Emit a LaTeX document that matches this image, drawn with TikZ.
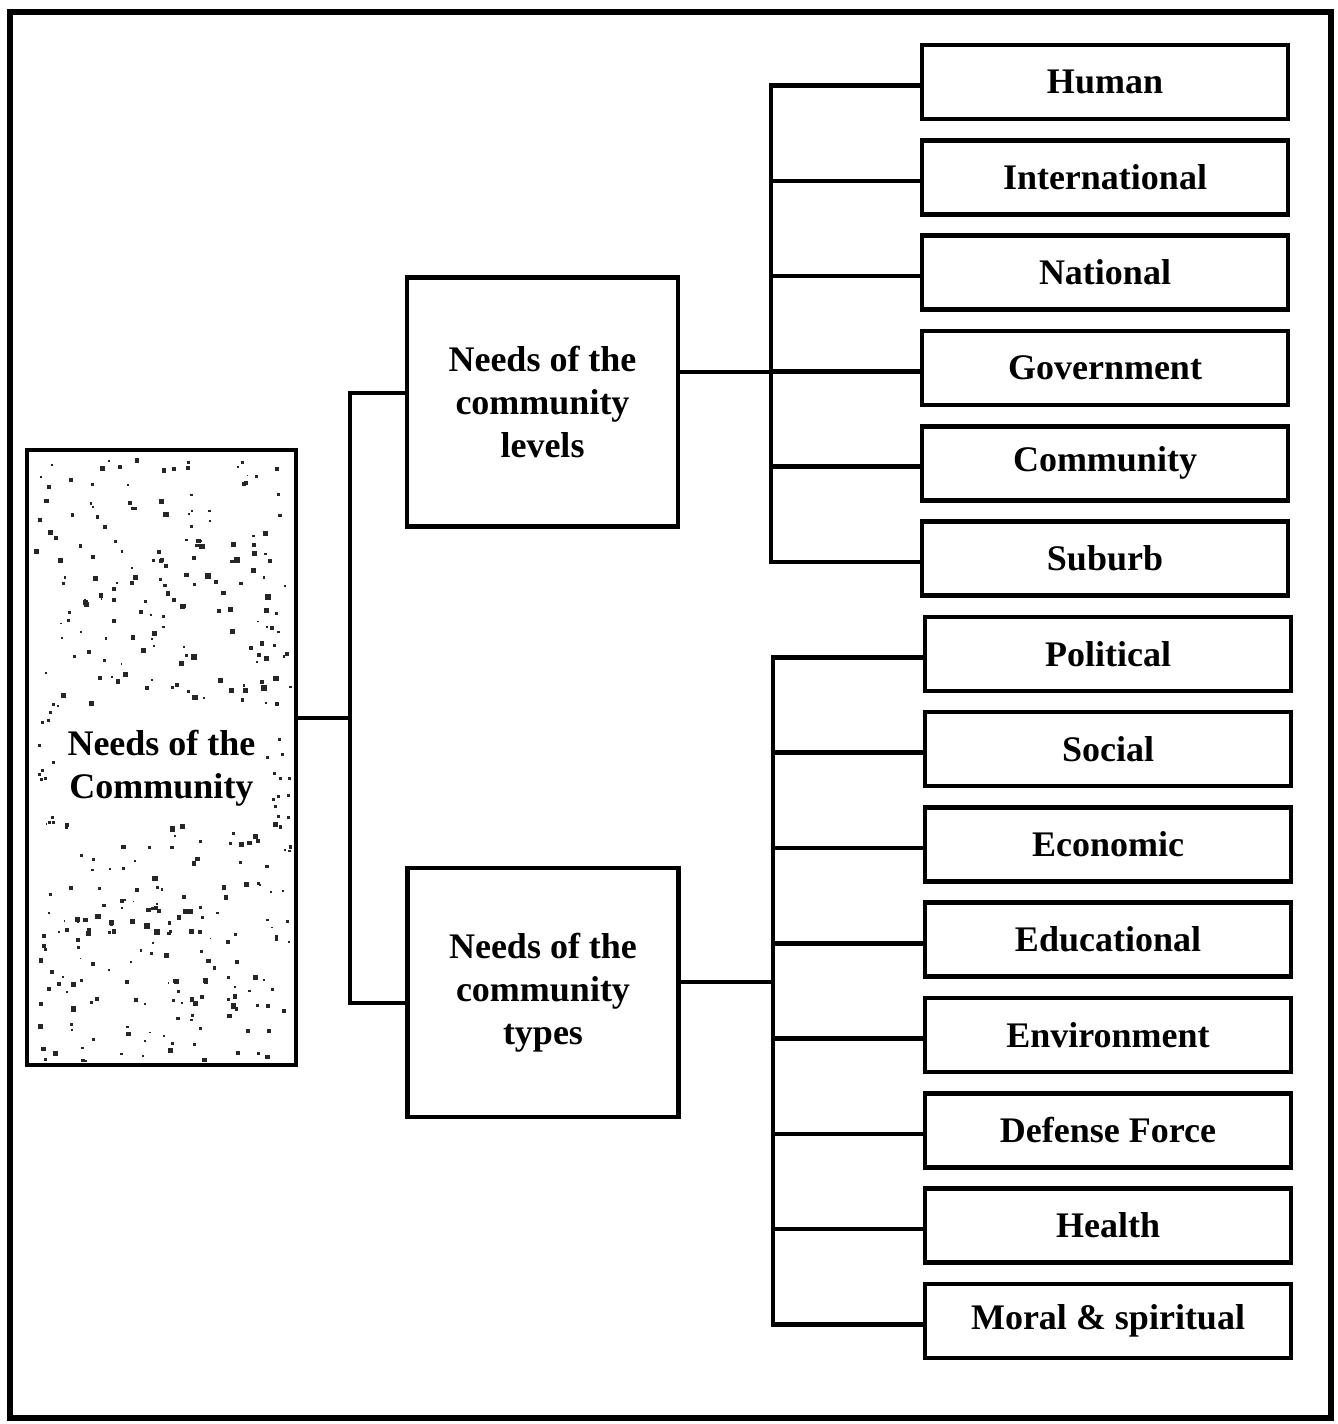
\documentclass[tikz,border=0pt]{standalone}
\usepackage{fontspec}
\setmainfont{Liberation Serif}
\begin{document}
\begin{tikzpicture}[x=1pt,y=-1pt,
  txt/.style={font=\fontsize{36}{43}\selectfont\bfseries, align=center, inner sep=0pt},
  box/.style={draw, line width=4.6pt, txt},
  leaf/.style={box, minimum width=366pt, minimum height=74pt},
  mid/.style={box, minimum width=271pt, minimum height=249pt},
  link/.style={line width=4.6pt},
  bus/.style={line width=4.6pt, line cap=rect},
  speck/.style={fill=black!85}]
\useasboundingbox (0,0) rectangle (1338,1424);
% outer frame
\draw[line width=5.5pt] (10,12) rectangle (1331,1418);

% speckled texture inside the main box
\begin{scope}
  \clip (31,454) rectangle (292,1061);
  \pgfmathsetseed{1234}
  \foreach \i in {1,...,170}{
    \pgfmathsetmacro\px{33+257*rnd}
    \pgfmathsetmacro\py{456+250*rnd}
    \pgfmathsetmacro\s{1.5+4*rnd}
    \fill[speck] (\px,\py) rectangle ++(\s,\s);
  }
  \foreach \i in {1,...,180}{
    \pgfmathsetmacro\px{33+257*rnd}
    \pgfmathsetmacro\py{822+238*rnd}
    \pgfmathsetmacro\s{1.5+4*rnd}
    \fill[speck] (\px,\py) rectangle ++(\s,\s);
  }
  \foreach \i in {1,...,12}{
    \pgfmathsetmacro\px{33+22*rnd}
    \pgfmathsetmacro\py{706+116*rnd}
    \fill[speck] (\px,\py) rectangle ++(3,3);
    \pgfmathsetmacro\qx{266+24*rnd}
    \pgfmathsetmacro\qy{706+116*rnd}
    \fill[speck] (\qx,\qy) rectangle ++(3,3);
  }
\end{scope}

% main box and its title
\node[box, minimum width=269pt, minimum height=615pt] (root) at (161.5,757.5) {};
\node[txt] (roottitle) at ([yshift=-11pt]root.center) {Needs of the\\Community};

% second level
\node[mid] (lev) at (542.5,402) {Needs of the\\community\\levels};
\node[mid] (typ) at (543,992.5) {Needs of the\\community\\types};

% leaves: levels
\node[leaf] (human) at (1105,82)   {Human};
\node[leaf] (intl)  at (1105,177.3) {International};
\node[leaf] (natl)  at (1105,272.6) {National};
\node[leaf] (gov)   at (1105,367.9) {Government};
\node[leaf] (comm)  at (1105,463.2) {Community};
\node[leaf] (sub)   at (1105,558.5) {Suburb};
% leaves: types
\node[leaf] (pol)   at (1108,653.8)  {Political};
\node[leaf] (soc)   at (1108,749.1)  {Social};
\node[leaf] (eco)   at (1108,844.4)  {Economic};
\node[leaf] (edu)   at (1108,939.7)  {Educational};
\node[leaf] (env)   at (1108,1035)   {Environment};
\node[leaf] (def)   at (1108,1130.3) {Defense Force};
\node[leaf] (hea)   at (1108,1225.6) {Health};
\node[leaf] (mor)   at (1108,1320.9) {Moral \& spiritual};

% bus positions
\coordinate (b0) at (350,718);
\coordinate (b1) at (771,372);
\coordinate (b2) at (773,982);

% root to second level
\draw[link] (root.east |- b0) -- (b0);
\draw[link] ([yshift=9pt]lev.west) -| (b0) |- ([yshift=-10.5pt]typ.west);

% levels tree
\draw[link] (lev.east |- b1) -- (b1);
\draw[bus] ([yshift=-3.5pt]human.west -| b1) -- ([yshift=-3.5pt]sub.west -| b1);
\foreach \n in {human,intl,natl,gov,comm,sub}
  \draw[link] ([yshift=-3.5pt]\n.west) -- ([yshift=-3.5pt]\n.west -| b1);

% types tree
\draw[link] (typ.east |- b2) -- (b2);
\draw[bus] ([yshift=-3.5pt]pol.west -| b2) -- ([yshift=-3.5pt]mor.west -| b2);
\foreach \n in {pol,soc,eco,edu,env,def,hea,mor}
  \draw[link] ([yshift=-3.5pt]\n.west) -- ([yshift=-3.5pt]\n.west -| b2);
\end{tikzpicture}
\end{document}
